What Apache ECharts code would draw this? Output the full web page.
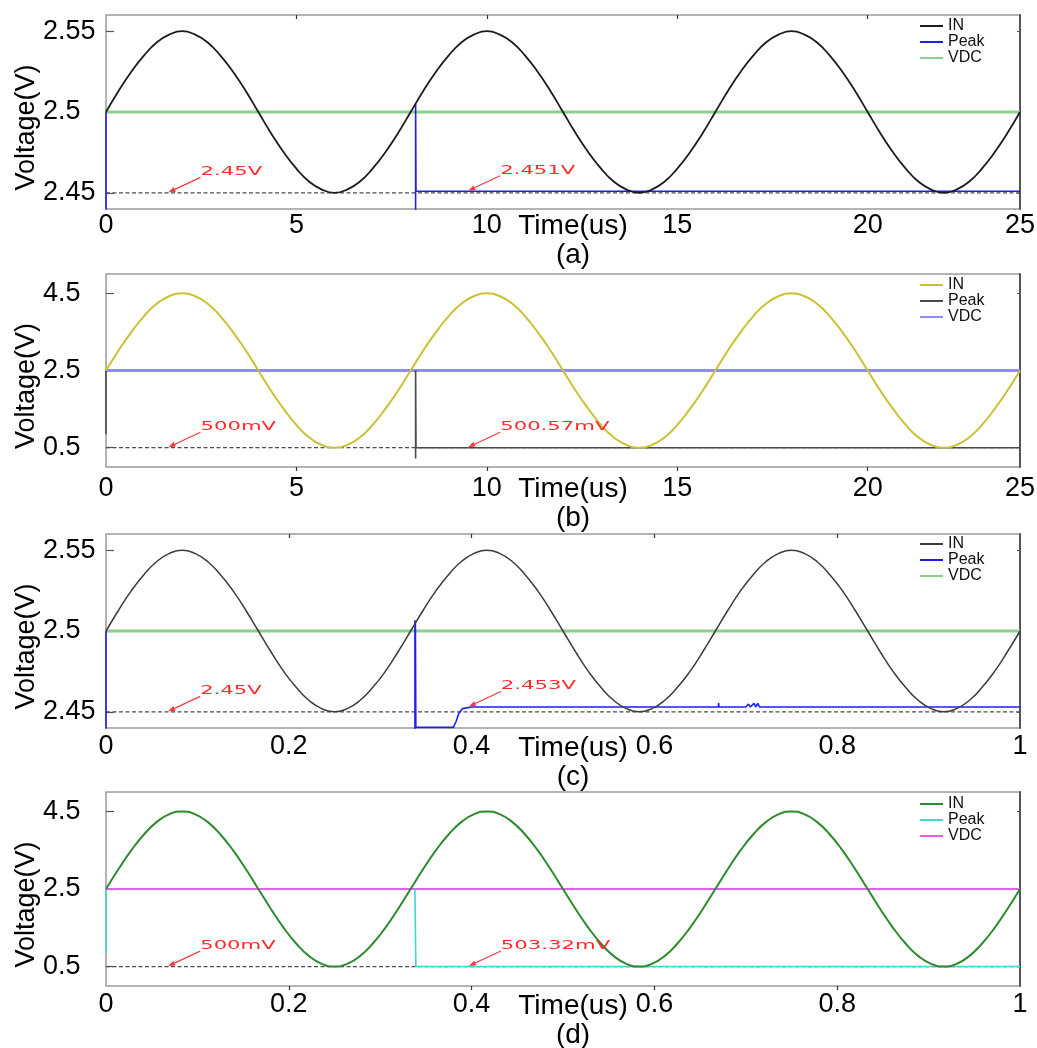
<!DOCTYPE html>
<html>
<head>
<meta charset="utf-8">
<title>Peak detector transient response</title>
<script src="https://cdn.jsdelivr.net/npm/echarts@6.0.0/dist/echarts.min.js"></script>
<style>
  html, body { margin: 0; padding: 0; background: #ffffff; }
  #chart { width: 1037px; height: 1048px; }
</style>
</head>
<body>
<div id="chart"></div>
<script>
// ---- time bases (us) ----
const timeAB = [0, 0.33, 0.67, 1, 1.33, 1.67, 2, 2.33, 2.67, 3, 3.33, 3.67,
  4, 4.33, 4.67, 5, 5.33, 5.67, 6, 6.33, 6.67, 7, 7.33, 7.67,
  8, 8.33, 8.67, 9, 9.33, 9.67, 10, 10.33, 10.67, 11, 11.33, 11.67,
  12, 12.33, 12.67, 13, 13.33, 13.67, 14, 14.33, 14.67, 15, 15.33, 15.67,
  16, 16.33, 16.67, 17, 17.33, 17.67, 18, 18.33, 18.67, 19, 19.33, 19.67,
  20, 20.33, 20.67, 21, 21.33, 21.67, 22, 22.33, 22.67, 23, 23.33, 23.67, 24];
const timeCD = [0, 0.0139, 0.0278, 0.0417, 0.0556, 0.0694, 0.0833, 0.0972, 0.1111, 0.125, 0.1389, 0.1528,
  0.1667, 0.1806, 0.1944, 0.2083, 0.2222, 0.2361, 0.25, 0.2639, 0.2778, 0.2917, 0.3056, 0.3194,
  0.3333, 0.3472, 0.3611, 0.375, 0.3889, 0.4028, 0.4167, 0.4306, 0.4444, 0.4583, 0.4722, 0.4861,
  0.5, 0.5139, 0.5278, 0.5417, 0.5556, 0.5694, 0.5833, 0.5972, 0.6111, 0.625, 0.6389, 0.6528,
  0.6667, 0.6806, 0.6944, 0.7083, 0.7222, 0.7361, 0.75, 0.7639, 0.7778, 0.7917, 0.8056, 0.8194,
  0.8333, 0.8472, 0.8611, 0.875, 0.8889, 0.9028, 0.9167, 0.9306, 0.9444, 0.9583, 0.9722, 0.9861, 1];

// ---- input waveforms (V) ----
const inA = [
  2.5, 2.513, 2.525, 2.535, 2.543, 2.548, 2.55, 2.548, 2.543, 2.535, 2.525, 2.513,
  2.5, 2.487, 2.475, 2.465, 2.457, 2.452, 2.45, 2.452, 2.457, 2.465, 2.475, 2.487,
  2.5, 2.513, 2.525, 2.535, 2.543, 2.548, 2.55, 2.548, 2.543, 2.535, 2.525, 2.513,
  2.5, 2.487, 2.475, 2.465, 2.457, 2.452, 2.45, 2.452, 2.457, 2.465, 2.475, 2.487,
  2.5, 2.513, 2.525, 2.535, 2.543, 2.548, 2.55, 2.548, 2.543, 2.535, 2.525, 2.513,
  2.5, 2.487, 2.475, 2.465, 2.457, 2.452, 2.45, 2.452, 2.457, 2.465, 2.475, 2.487, 2.5];
const inB = [
  2.5, 3.02, 3.5, 3.91, 4.23, 4.43, 4.5, 4.43, 4.23, 3.91, 3.5, 3.02,
  2.5, 1.98, 1.5, 1.09, 0.77, 0.57, 0.5, 0.57, 0.77, 1.09, 1.5, 1.98,
  2.5, 3.02, 3.5, 3.91, 4.23, 4.43, 4.5, 4.43, 4.23, 3.91, 3.5, 3.02,
  2.5, 1.98, 1.5, 1.09, 0.77, 0.57, 0.5, 0.57, 0.77, 1.09, 1.5, 1.98,
  2.5, 3.02, 3.5, 3.91, 4.23, 4.43, 4.5, 4.43, 4.23, 3.91, 3.5, 3.02,
  2.5, 1.98, 1.5, 1.09, 0.77, 0.57, 0.5, 0.57, 0.77, 1.09, 1.5, 1.98, 2.5];
const inC = [
  2.5, 2.513, 2.525, 2.535, 2.543, 2.548, 2.55, 2.548, 2.543, 2.535, 2.525, 2.513,
  2.5, 2.487, 2.475, 2.465, 2.457, 2.452, 2.45, 2.452, 2.457, 2.465, 2.475, 2.487,
  2.5, 2.513, 2.525, 2.535, 2.543, 2.548, 2.55, 2.548, 2.543, 2.535, 2.525, 2.513,
  2.5, 2.487, 2.475, 2.465, 2.457, 2.452, 2.45, 2.452, 2.457, 2.465, 2.475, 2.487,
  2.5, 2.513, 2.525, 2.535, 2.543, 2.548, 2.55, 2.548, 2.543, 2.535, 2.525, 2.513,
  2.5, 2.487, 2.475, 2.465, 2.457, 2.452, 2.45, 2.452, 2.457, 2.465, 2.475, 2.487, 2.5];
const inD = [
  2.5, 3.02, 3.5, 3.91, 4.23, 4.43, 4.5, 4.43, 4.23, 3.91, 3.5, 3.02,
  2.5, 1.98, 1.5, 1.09, 0.77, 0.57, 0.5, 0.57, 0.77, 1.09, 1.5, 1.98,
  2.5, 3.02, 3.5, 3.91, 4.23, 4.43, 4.5, 4.43, 4.23, 3.91, 3.5, 3.02,
  2.5, 1.98, 1.5, 1.09, 0.77, 0.57, 0.5, 0.57, 0.77, 1.09, 1.5, 1.98,
  2.5, 3.02, 3.5, 3.91, 4.23, 4.43, 4.5, 4.43, 4.23, 3.91, 3.5, 3.02,
  2.5, 1.98, 1.5, 1.09, 0.77, 0.57, 0.5, 0.57, 0.77, 1.09, 1.5, 1.98, 2.5];

// ---- detector output [t, V]; '-' breaks the trace ----
const peakA = [[0, 2.5], [0, 2.3], [8.13, 2.3], [8.13, 2.505], [8.14, 2.451], [24, 2.451]];
const peakB = [[0, 2.5], [0, 0.85], [4, '-'], [8.13, 0.22], [8.13, 2.5], [8.14, 0.50057], [24, 0.50057]];
const peakC = [[0, 2.5], [0, 2.3], [0.338, 2.3], [0.338, 2.4404], [0.338, 2.5066], [0.3385, 2.505],
  [0.339, 2.4404], [0.38, 2.4404], [0.383, 2.444], [0.386, 2.449], [0.39, 2.452], [0.4, 2.453],
  [0.67, 2.453], [0.6703, 2.4555], [0.6706, 2.453], [0.7, 2.453], [0.703, 2.4548], [0.705, 2.453],
  [0.709, 2.4552], [0.711, 2.453], [0.713, 2.4552], [0.715, 2.453], [1, 2.453]];
const peakD = [[0, 2.5], [0, 0.83], [0.1, '-'], [0.338, 2.5], [0.339, 0.50332], [1, 0.50332]];

// ---- DC reference and expected peak level (V) ----
const vdcA = 2.5, vdcB = 2.5, vdcC = 2.5, vdcD = 2.5;
const refA = 2.45, refB = 0.5, refC = 2.45, refD = 0.5;

// ---- tick labels ----
const xTicksAB = [0, 5, 10, 15, 20, 24];
const xLabelsAB = ['0', '5', '10', '15', '20', '25'];
const xTopAB = [5, 10, 15, 20];
const xTicksCD = [0, 0.2, 0.4, 0.6, 0.8, 1];
const xLabelsCD = ['0', '0.2', '0.4', '0.6', '0.8', '1'];
const xTopCD = [0.2, 0.4, 0.6, 0.8];
const yTicksSmall = [2.45, 2.5, 2.55];
const yTicksLarge = [0.5, 2.5, 4.5];

// ---- callouts: value pointed at and its label ----
const annotA = [{ t: 1.64, v: 2.45, label: '2.45V' }, { t: 9.51, v: 2.451, label: '2.451V' }];
const annotB = [{ t: 1.64, v: 0.5, label: '500mV' }, { t: 9.51, v: 0.50057, label: '500.57mV' }];
const annotC = [{ t: 0.068, v: 2.45, label: '2.45V' }, { t: 0.397, v: 2.453, label: '2.453V' }];
const annotD = [{ t: 0.068, v: 0.5, label: '500mV' }, { t: 0.397, v: 0.50332, label: '503.32mV' }];

const seriesNames = ['IN', 'Peak', 'VDC'];
const FONT = '"Liberation Sans", Arial, sans-serif';

const panels = [
  { tag: '(a)', top: 15, height: 194, t: timeAB, vin: inA, peak: peakA, vdc: vdcA, ref: refA,
    xMax: 24, xTicks: xTicksAB, xLabels: xLabelsAB, xTop: xTopAB, yMin: 2.44, yMax: 2.56, yTicks: yTicksSmall,
    annot: annotA, colors: { in: '#1c1c1c', peak: '#1f1fef', vdc: '#8ccf8c' }, widths: { in: 1.8, peak: 1.6, vdc: 3 },
    labelMargin: 3, nameGap: 3, legendTop: 18 },
  { tag: '(b)', top: 274, height: 193, t: timeAB, vin: inB, peak: peakB, vdc: vdcB, ref: refB,
    xMax: 24, xTicks: xTicksAB, xLabels: xLabelsAB, xTop: xTopAB, yMin: 0, yMax: 5, yTicks: yTicksLarge,
    annot: annotB, colors: { in: '#c9c232', peak: '#4a4a4a', vdc: '#8c8cfb' }, widths: { in: 2, peak: 1.6, vdc: 3 },
    labelMargin: 8, nameGap: 8, legendTop: 277 },
  { tag: '(c)', top: 534, height: 194, t: timeCD, vin: inC, peak: peakC, vdc: vdcC, ref: refC,
    xMax: 1, xTicks: xTicksCD, xLabels: xLabelsCD, xTop: xTopCD, yMin: 2.44, yMax: 2.56, yTicks: yTicksSmall,
    annot: annotC, colors: { in: '#3c3c3c', peak: '#1f1fef', vdc: '#8ccf8c' }, widths: { in: 1.5, peak: 1.6, vdc: 3 },
    labelMargin: 5, nameGap: 6, legendTop: 536 },
  { tag: '(d)', top: 792, height: 194, t: timeCD, vin: inD, peak: peakD, vdc: vdcD, ref: refD,
    xMax: 1, xTicks: xTicksCD, xLabels: xLabelsCD, xTop: xTopCD, yMin: 0, yMax: 5, yTicks: yTicksLarge,
    annot: annotD, colors: { in: '#2e8a2e', peak: '#3fd6d6', vdc: '#e45ef0' }, widths: { in: 2, peak: 1.6, vdc: 2 },
    labelMargin: 5, nameGap: 6, legendTop: 796 }
];

const grid = [], xAxis = [], yAxis = [], legend = [], series = [];

function callout(list, xi, yi) {
  return {
    type: 'custom', xAxisIndex: xi, yAxisIndex: yi, silent: true, z: 20, clip: false,
    data: list.map(a => [a.t, a.v]),
    encode: { x: 0, y: 1 },
    renderItem(params, api) {
      const a = list[params.dataIndex];
      const p = api.coord([api.value(0), api.value(1)]);
      const tip = [p[0], p[1] - 0.5];
      const tail = [tip[0] + 32, tip[1] - 15];
      const dx = tip[0] - tail[0], dy = tip[1] - tail[1];
      const len = Math.sqrt(dx * dx + dy * dy);
      const ux = dx / len, uy = dy / len;
      const hl = 7, hw = 2.6;
      const bx = tip[0] - ux * hl, by = tip[1] - uy * hl;
      return {
        type: 'group',
        children: [
          { type: 'line', shape: { x1: tail[0], y1: tail[1], x2: bx, y2: by },
            style: { stroke: '#f43a3a', lineWidth: 1.2 } },
          { type: 'polygon',
            shape: { points: [tip, [bx - uy * hw, by + ux * hw], [bx + uy * hw, by - ux * hw]] },
            style: { fill: '#f43a3a' } },
          { type: 'text', x: tail[0], y: tail[1] - 5.5, scaleX: 1.63,
            style: { text: a.label, x: 0, y: 0, fill: '#ff2a2a', align: 'left', verticalAlign: 'middle',
              font: '13px "DejaVu Sans", sans-serif' } }
        ]
      };
    }
  };
}

panels.forEach((p, i) => {
  const xi = 2 * i, yi = 2 * i;
  grid.push({ left: 106, right: 17, top: p.top, height: p.height, show: true,
    borderColor: '#9c9c9c', borderWidth: 1.5, backgroundColor: 'transparent', outerBoundsMode: 'none' });

  xAxis.push({
    gridIndex: i, type: 'value', position: 'bottom', min: 0, max: p.xMax,
    axisLine: { show: false }, axisTick: { show: false }, splitLine: { show: false },
    axisLabel: { customValues: p.xTicks, formatter: v => p.xLabels[p.xTicks.indexOf(v)],
      color: '#000', fontSize: 27, fontFamily: FONT, margin: p.labelMargin },
    name: 'Time(us)\n' + p.tag, nameLocation: 'middle', nameGap: p.nameGap, nameMoveOverlap: false,
    nameTextStyle: { color: '#000', fontSize: 28, fontFamily: FONT, lineHeight: 29, padding: [0, 0, 0, 20] }
  });
  xAxis.push({
    gridIndex: i, type: 'value', position: 'top', min: 0, max: p.xMax,
    axisLine: { show: false }, splitLine: { show: false }, axisLabel: { show: false },
    axisTick: { show: true, inside: true, length: 4, customValues: p.xTop, lineStyle: { color: '#333', width: 1.2 } }
  });

  yAxis.push({
    gridIndex: i, type: 'value', position: 'left', min: p.yMin, max: p.yMax,
    axisLine: { show: false }, splitLine: { show: false },
    axisTick: { show: true, inside: true, length: 8, customValues: p.yTicks, lineStyle: { color: '#555', width: 1.2 } },
    axisLabel: { customValues: p.yTicks, align: 'left', margin: 63, color: '#000', fontSize: 27,
      fontFamily: FONT, padding: [5, 0, 0, 0] },
    name: 'Voltage(V)', nameLocation: 'middle', nameGap: 66, nameMoveOverlap: false,
    nameTextStyle: { color: '#000', fontSize: 27, fontFamily: FONT, padding: [0, 31, 0, 0] }
  });
  yAxis.push({
    gridIndex: i, type: 'value', position: 'right', min: p.yMin, max: p.yMax,
    axisLine: { show: true, onZero: false, lineStyle: { color: '#4a4a4a', width: 1.8 } },
    splitLine: { show: false }, axisLabel: { show: false },
    axisTick: { show: true, inside: true, length: 3, customValues: p.yTicks, lineStyle: { color: '#555' } }
  });

  const nm = k => seriesNames[k] + '\u2009' + p.tag;
  const base = { type: 'line', xAxisIndex: xi, yAxisIndex: yi, symbol: 'none', showSymbol: false,
    animation: false, silent: true };

  series.push(Object.assign({}, base, { name: nm(2),
    data: [[0, p.vdc], [p.xMax, p.vdc]], lineStyle: { color: p.colors.vdc, width: p.widths.vdc }, color: p.colors.vdc }));
  series.push(Object.assign({}, base, {
    data: [[0, p.ref], [p.xMax, p.ref]], lineStyle: { color: '#4d4d4d', width: 1.3, type: [4, 2.5] }, color: '#4d4d4d' }));
  series.push(Object.assign({}, base, { name: nm(1), data: p.peak, connectNulls: false,
    lineStyle: { color: p.colors.peak, width: p.widths.peak }, color: p.colors.peak }));
  series.push(Object.assign({}, base, { name: nm(0), smooth: 0.5,
    data: p.t.map((t, k) => [t, p.vin[k]]), lineStyle: { color: p.colors.in, width: p.widths.in }, color: p.colors.in }));
  series.push(callout(p.annot, xi, yi));

  legend.push({
    data: [nm(0), nm(1), nm(2)], orient: 'vertical', left: 920, top: p.legendTop,
    padding: 0, itemGap: 0, itemWidth: 23, itemHeight: 2, icon: 'rect', selectedMode: false,
    formatter: n => n.split('\u2009')[0],
    textStyle: { color: '#111', fontSize: 16, fontFamily: FONT, lineHeight: 13.5 }
  });
});

const chart = echarts.init(document.getElementById('chart'), null, { renderer: 'canvas' });
chart.setOption({ animation: false, backgroundColor: '#ffffff', grid, xAxis, yAxis, legend, series });
</script>
</body>
</html>
